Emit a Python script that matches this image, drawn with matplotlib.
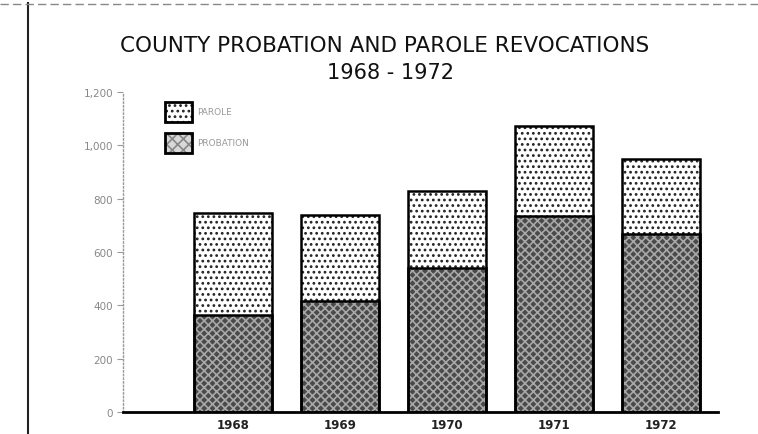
import matplotlib
matplotlib.use("Agg")
import matplotlib.pyplot as plt
from matplotlib.patches import Rectangle
from matplotlib.lines import Line2D

# Data
years = ["1968", "1969", "1970", "1971", "1972"]
probation = [362, 415, 540, 734, 668]
parole = [384, 322, 288, 340, 281]
y_ticks = [0, 200, 400, 600, 800, 1000, 1200]
y_tick_labels = ["0", "200", "400", "600", "800", "1,000", "1,200"]

plt.rcParams["font.family"] = ["DejaVu Sans"]
plt.rcParams["hatch.linewidth"] = 1.2

fig = plt.figure(figsize=(7.58, 4.35), dpi=100)
ax = fig.add_axes([0.1623, 0.0506, 0.785, 0.7356])

x = list(range(len(years)))
w = 0.73

# probation: dark speckled fill
ax.bar(x, probation, width=w, color="#4a4a4a", linewidth=0, zorder=2)
ax.bar(x, probation, width=w, color="none", edgecolor="#a8a8a8",
       hatch="xxxx", linewidth=0, zorder=3)
# parole: dotted fill on white
ax.bar(x, parole, bottom=probation, width=w, color="white", linewidth=0, zorder=2)
ax.bar(x, parole, bottom=probation, width=w, color="none", edgecolor="#222222",
       hatch="...", linewidth=0, zorder=3)
# outlines
tops = [a + b for a, b in zip(probation, parole)]
ax.bar(x, tops, width=w, fill=False, edgecolor="black", linewidth=1.8, zorder=4)
ax.bar(x, probation, width=w, fill=False, edgecolor="black", linewidth=1.8, zorder=4)

ax.set_xlim(-1.03, 4.53)
ax.set_ylim(0, 1200)
ax.set_xticks(x)
ax.set_xticklabels(years, fontsize=8.5, color="#222222", fontweight="bold")
ax.tick_params(axis="x", length=0, pad=4)
ax.set_yticks(y_ticks)
ax.set_yticklabels(y_tick_labels, fontsize=7.5, color="#888888")
ax.tick_params(axis="y", length=4, width=0.8, color="#999999", pad=3)

for s in ["top", "right"]:
    ax.spines[s].set_visible(False)
ax.spines["left"].set_linestyle(":")
ax.spines["left"].set_color("#999999")
ax.spines["left"].set_linewidth(1)
ax.spines["bottom"].set_color("black")
ax.spines["bottom"].set_linewidth(2)

# title
fig.text(0.508, 0.895, "COUNTY PROBATION AND PAROLE REVOCATIONS",
         ha="center", va="center", fontsize=15.5, color="#111111")
fig.text(0.515, 0.833, "1968 - 1972", ha="center", va="center",
         fontsize=15, color="#111111")

# legend boxes
W, H = 758.0, 435.0
leg = [("PAROLE", 103, "white", "#222222", "..."),
       ("PROBATION", 134, "#d8d8d8", "#888888", "xxx")]
for label, ytop, fc, hc, hatch in leg:
    r0 = Rectangle((165 / W, 1 - (ytop + 20) / H), 27 / W, 20 / H,
                   transform=fig.transFigure, facecolor=fc, edgecolor="none")
    r1 = Rectangle((165 / W, 1 - (ytop + 20) / H), 27 / W, 20 / H,
                   transform=fig.transFigure, facecolor="none", edgecolor=hc,
                   hatch=hatch, linewidth=0)
    r2 = Rectangle((165 / W, 1 - (ytop + 20) / H), 27 / W, 20 / H,
                   transform=fig.transFigure, facecolor="none",
                   edgecolor="black", linewidth=2)
    for r in (r0, r1, r2):
        fig.add_artist(r)
    fig.text(197 / W, 1 - (ytop + 10) / H, label, ha="left", va="center",
             fontsize=6.5, color="#999999")

# scan border
fig.add_artist(Line2D([28 / W, 28 / W], [0, 0.99], transform=fig.transFigure,
                      color="#222222", linewidth=1.5))
fig.add_artist(Line2D([0, 1], [1 - 5 / H, 1 - 5 / H], transform=fig.transFigure,
                      color="#888888", linewidth=1, linestyle=(0, (6, 3))))

fig.savefig("out.png", dpi=100)
